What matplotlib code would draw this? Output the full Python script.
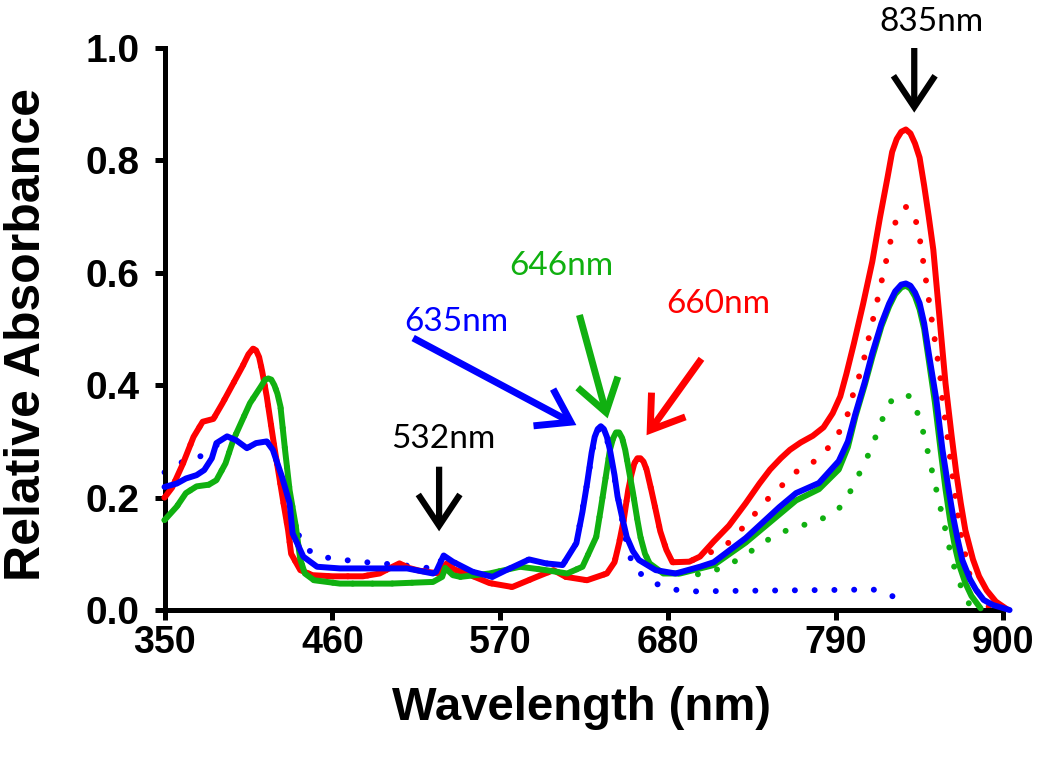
import matplotlib
matplotlib.use("Agg")
import matplotlib.pyplot as plt
from matplotlib import font_manager
from matplotlib.patches import FancyArrowPatch, ArrowStyle

# ---------------- data ----------------
wl_red = [350,355,362,369,375,382,388,395,401,405,408,410,412,414,417,422,428,431,433,439,447,460,480,491,498,504,510,517,530,535,540,548,563,578,594,605,613,627,640,645,648,651,654,656,658,660,662,664,666,669,672,675,679,683,694,701,710,720,731,740,747,754,760,767,775,782,788,793,797,802,808,814,819,824,827,830,833,836,839,842,845,848,851,854,858,862,866,869,872,875,880,884,889,895,902]
abs_red = [0.20,0.218,0.26,0.308,0.335,0.34,0.368,0.403,0.433,0.455,0.465,0.462,0.45,0.425,0.38,0.29,0.19,0.142,0.10,0.071,0.062,0.06,0.06,0.065,0.075,0.083,0.075,0.07,0.065,0.083,0.072,0.065,0.048,0.041,0.059,0.071,0.059,0.053,0.065,0.085,0.119,0.16,0.214,0.24,0.261,0.27,0.27,0.264,0.25,0.215,0.178,0.14,0.107,0.085,0.086,0.095,0.122,0.15,0.19,0.225,0.25,0.27,0.285,0.298,0.31,0.325,0.35,0.38,0.42,0.475,0.545,0.62,0.698,0.77,0.815,0.838,0.851,0.855,0.848,0.83,0.805,0.755,0.70,0.641,0.522,0.403,0.31,0.245,0.19,0.142,0.09,0.06,0.035,0.015,0.002]

wl_red_dot = [350,355,362,369,375,382,388,395,401,405,408,410,412,414,417,422,428,431,433,439,447,460,480,491,498,504,510,517,530,535,540,548,563,578,594,605,613,627,640,645,648,651,654,656,658,660,662,664,666,669,672,675,679,683,694,701,710,718,727,746,765,777,787,794,799,802,807,810,813,816,819,822,825,828,831,834,837,840,842,845,847,849,851,853,855,857,859,860,862,866,871,878,887,895]
abs_red_dot = [0.20,0.218,0.26,0.308,0.335,0.34,0.368,0.403,0.433,0.455,0.465,0.462,0.45,0.425,0.38,0.29,0.19,0.142,0.10,0.071,0.062,0.06,0.06,0.065,0.075,0.083,0.075,0.07,0.065,0.083,0.072,0.065,0.048,0.041,0.059,0.071,0.059,0.053,0.065,0.085,0.119,0.16,0.214,0.24,0.261,0.27,0.27,0.264,0.25,0.215,0.178,0.14,0.107,0.085,0.086,0.095,0.105,0.115,0.14,0.199,0.248,0.266,0.294,0.324,0.356,0.391,0.428,0.464,0.5,0.535,0.572,0.608,0.645,0.681,0.703,0.715,0.718,0.71,0.699,0.663,0.627,0.59,0.553,0.516,0.48,0.444,0.406,0.371,0.335,0.25,0.15,0.06,0.01,0.0]

wl_green = [350,358,364,371,379,384,390,395,401,406,413,416,418,420,422,424,426,429,432,436,439,442,448,465,498,526,532,534,539,544,563,583,600,614,624,633,636,638,640,642,644,646,648,650,652,655,657,660,662,665,668,677,688,710,731,753,764,779,792,798,803,809,814,820,825,829,833,836,839,842,845,848,851,855,859,862,865,868,871,875,879,885]
abs_green = [0.16,0.184,0.208,0.22,0.223,0.231,0.261,0.302,0.338,0.368,0.397,0.41,0.412,0.41,0.40,0.385,0.362,0.285,0.213,0.15,0.09,0.065,0.053,0.047,0.047,0.05,0.059,0.075,0.062,0.059,0.065,0.077,0.071,0.065,0.077,0.13,0.18,0.215,0.25,0.285,0.305,0.316,0.316,0.306,0.285,0.24,0.21,0.16,0.13,0.10,0.083,0.065,0.065,0.08,0.12,0.17,0.195,0.215,0.25,0.29,0.345,0.40,0.45,0.505,0.54,0.562,0.574,0.577,0.572,0.558,0.535,0.50,0.445,0.37,0.28,0.215,0.16,0.115,0.08,0.048,0.025,0.003]

wl_green_dot = [350,358,364,371,379,384,390,395,401,406,413,416,418,420,422,424,426,429,432,436,439,442,448,465,498,526,532,534,539,544,563,583,600,614,624,633,636,638,640,642,644,646,648,650,652,655,657,660,662,665,668,677,688,694,707,719,731,742,753,766,779,792,799,805,811,816,821,827,830,833,836,839,842,844,848,851,854,857,860,863,866,870,875,879]
abs_green_dot = [0.16,0.184,0.208,0.22,0.223,0.231,0.261,0.302,0.338,0.368,0.397,0.41,0.412,0.41,0.40,0.385,0.362,0.285,0.213,0.15,0.09,0.065,0.053,0.047,0.047,0.05,0.059,0.075,0.062,0.059,0.065,0.077,0.071,0.065,0.077,0.13,0.18,0.215,0.25,0.285,0.305,0.316,0.316,0.306,0.285,0.24,0.21,0.16,0.13,0.10,0.083,0.065,0.065,0.061,0.067,0.079,0.098,0.119,0.137,0.149,0.159,0.18,0.208,0.24,0.274,0.307,0.342,0.375,0.38,0.382,0.382,0.38,0.365,0.347,0.311,0.274,0.237,0.202,0.166,0.13,0.092,0.056,0.024,0.003]

wl_blue = [350,358,364,371,376,381,384,391,397,404,410,417,421,427,432,434,441,450,465,498,509,526,528,533,539,552,565,574,589,600,611,620,624,627,630,632,634,636,638,640,642,645,647,650,653,657,661,672,685,701,710,731,753,764,779,792,798,803,809,814,820,825,829,833,836,839,842,845,848,851,856,860,864,867,870,873,878,882,887,893,904]
abs_blue = [0.219,0.225,0.234,0.24,0.249,0.27,0.297,0.309,0.302,0.288,0.297,0.3,0.285,0.237,0.19,0.136,0.095,0.077,0.074,0.074,0.074,0.065,0.068,0.097,0.086,0.068,0.059,0.071,0.09,0.083,0.08,0.119,0.175,0.225,0.28,0.308,0.322,0.327,0.322,0.308,0.285,0.24,0.202,0.165,0.13,0.105,0.089,0.071,0.065,0.077,0.085,0.128,0.183,0.208,0.226,0.265,0.30,0.35,0.405,0.457,0.51,0.545,0.567,0.579,0.581,0.577,0.565,0.546,0.51,0.457,0.374,0.285,0.215,0.166,0.125,0.089,0.055,0.036,0.018,0.009,0.0]

wl_blue_dot = [350,362,374,385,391,397,404,410,417,421,427,432,436,442,452,465,478,491,505,520,528,533,539,552,565,574,589,600,611,620,627,632,636,640,644,648,652,657,667,679,692,720,760,800,814,826,837]
abs_blue_dot = [0.245,0.264,0.274,0.295,0.309,0.302,0.288,0.297,0.3,0.285,0.237,0.19,0.145,0.11,0.095,0.09,0.086,0.083,0.08,0.076,0.072,0.097,0.086,0.068,0.059,0.071,0.09,0.083,0.08,0.119,0.225,0.308,0.326,0.305,0.25,0.19,0.13,0.077,0.053,0.039,0.033,0.034,0.035,0.036,0.037,0.027,0.005]

x_ticks = [350, 460, 570, 680, 790, 900]
y_ticks = [0.0, 0.2, 0.4, 0.6, 0.8, 1.0]
y_ticklabels = ["0.0", "0.2", "0.4", "0.6", "0.8", "1.0"]

RED = "#FF0000"
GREEN = "#10B010"
BLUE = "#0000FF"

# ---------------- fonts ----------------
names = {f.name for f in font_manager.fontManager.ttflist}
narrow = "Liberation Sans Narrow" if "Liberation Sans Narrow" in names else None
annot_font = "Lato" if "Lato" in names else "DejaVu Sans"

fig = plt.figure(figsize=(10.5, 7.68), dpi=100)
ax = fig.add_axes([0.1567, 0.2057, 0.799, 0.7318])

LW = 4.3
dot_style = (0, (0.01, 3.3))

def dotted(x, y, c):
    ax.plot(x, y, color=c, lw=LW, linestyle=dot_style, dash_capstyle="round", clip_on=False, zorder=2)

def solid(x, y, c, z):
    ax.plot(x, y, color=c, lw=LW, solid_joinstyle="round", solid_capstyle="round", clip_on=False, zorder=z)

dotted(wl_red_dot, abs_red_dot, RED)
dotted(wl_green_dot, abs_green_dot, GREEN)
dotted(wl_blue_dot, abs_blue_dot, BLUE)
solid(wl_red, abs_red, RED, 3)
solid(wl_green, abs_green, GREEN, 4)
solid(wl_blue, abs_blue, BLUE, 5)

ax.set_xlim(350, 900)
ax.set_ylim(0, 1.0)
for s in ["top", "right"]:
    ax.spines[s].set_visible(False)
for s in ["left", "bottom"]:
    ax.spines[s].set_linewidth(3.6)
ax.set_xticks(x_ticks)
ax.set_yticks(y_ticks)
ax.set_yticklabels(y_ticklabels)
ax.tick_params(axis="both", direction="out", width=3.6, length=7, color="black")
ax.tick_params(axis="y", pad=11)
ax.tick_params(axis="x", pad=4)

for lab in ax.get_yticklabels():
    lab.set_fontfamily("Liberation Sans")
    lab.set_fontweight("bold")
    lab.set_fontsize(28)
for lab in ax.get_xticklabels():
    if narrow:
        lab.set_fontfamily(narrow)
        lab.set_fontsize(32)
    else:
        lab.set_fontfamily("Liberation Sans")
        lab.set_fontsize(27)
    lab.set_fontweight("bold")

ax.set_ylabel("Relative Absorbance", fontfamily="Liberation Sans", fontweight="bold", fontsize=36)
ax.yaxis.set_label_coords(-0.137, 0.49)
if narrow:
    ax.set_xlabel("Wavelength (nm)", fontfamily=narrow, fontweight="bold", fontsize=40)
else:
    ax.set_xlabel("Wavelength (nm)", fontfamily="Liberation Sans", fontweight="bold", fontsize=34)
ax.xaxis.set_label_coords(0.4976, -0.135)

# ---------------- annotations ----------------
def arrow(x0, y0, x1, y1, c, lw):
    st = ArrowStyle("->", head_length=0.75, head_width=0.5)
    p = FancyArrowPatch((x0, y0), (x1, y1), arrowstyle=st, mutation_scale=30,
                        color=c, lw=lw, clip_on=False, zorder=6,
                        shrinkA=0, shrinkB=0, capstyle="butt", joinstyle="miter")
    ax.add_patch(p)

def label(x, y, s, c):
    ax.text(x, y, s, color=c, fontsize=24, fontfamily=annot_font,
            ha="center", va="center", clip_on=False, zorder=7)

label(853, 1.046, "835nm", "black")
arrow(841.5, 1.0, 841.5, 0.885, "black", 4.5)

label(533, 0.305, "532nm", "black")
arrow(530, 0.255, 530, 0.14, "black", 4.5)

label(541, 0.512, "635nm", BLUE)
arrow(513, 0.484, 620, 0.329, BLUE, 5)

label(610, 0.612, "646nm", GREEN)
arrow(622, 0.525, 640.5, 0.341, GREEN, 5)

label(713, 0.544, "660nm", RED)
arrow(702, 0.447, 666, 0.311, RED, 5)

fig.savefig("out.png", dpi=100)
